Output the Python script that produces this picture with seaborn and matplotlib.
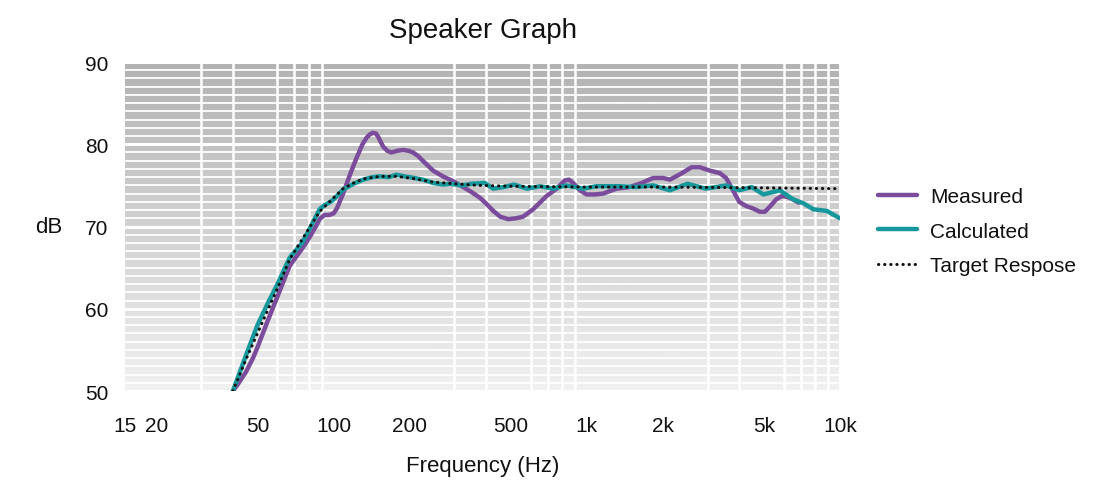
import numpy as np
import pandas as pd
import seaborn as sns
import matplotlib.pyplot as plt
from matplotlib.colors import LinearSegmentedColormap
from matplotlib.ticker import FixedLocator, NullFormatter

# measured response (purple)
measured_hz = [40, 42, 45, 48, 50, 55, 60, 67, 75, 80, 85, 88, 92, 96, 100, 103,
               109, 116, 123, 130, 135, 139, 143, 147, 150, 154, 157, 163, 169,
               178, 188, 198, 206, 215, 225, 247, 270, 297, 325, 350, 378, 400,
               427, 455, 489, 525, 560, 614, 693, 760, 818, 850, 883, 940, 997,
               1080, 1159, 1309, 1479, 1650, 1828, 2000, 2128, 2350, 2590, 2800,
               3058, 3350, 3550, 3780, 4000, 4250, 4530, 4820, 5050, 5280, 5600,
               5880, 6200, 6530, 6860]
measured_db = [50.0, 50.9, 52.3, 54.0, 55.3, 58.6, 61.5, 65.2, 67.3, 68.6, 70.0,
               70.9, 71.4, 71.4, 71.6, 72.2, 74.0, 76.3, 78.3, 80.0, 80.8, 81.2,
               81.4, 81.3, 80.9, 80.2, 79.7, 79.2, 79.0, 79.2, 79.3, 79.2, 79.0,
               78.6, 78.0, 76.8, 76.1, 75.5, 74.8, 74.2, 73.5, 72.8, 71.9, 71.2,
               70.9, 71.0, 71.2, 72.1, 73.7, 74.6, 75.6, 75.7, 75.3, 74.4, 73.9,
               73.9, 74.0, 74.6, 74.8, 75.3, 75.9, 75.9, 75.7, 76.4, 77.2, 77.2,
               76.8, 76.5, 75.9, 74.4, 73.0, 72.5, 72.2, 71.8, 71.8, 72.4, 73.3,
               73.7, 73.6, 73.3, 72.9]

# calculated response (teal)
calculated_hz = [40, 45, 50, 55, 60, 67, 75, 80, 85, 88, 92, 96, 100, 109, 120,
                 131, 142, 152, 165, 177, 190, 200, 225, 247, 270, 288, 320, 351,
                 395, 427, 470, 516, 582, 653, 737, 830, 967, 1090, 1350, 1570,
                 1828, 2128, 2500, 2950, 3550, 4000, 4480, 4980, 5790, 6530, 7200,
                 7840, 8860, 10000]
calculated_db = [50.0, 54.3, 58.0, 60.7, 63.0, 66.2, 68.0, 69.6, 71.2, 72.1, 72.6,
                 72.9, 73.3, 74.5, 75.2, 75.7, 76.0, 76.1, 76.0, 76.3, 76.1, 76.0,
                 75.7, 75.3, 75.1, 75.2, 75.0, 75.2, 75.3, 74.6, 74.8, 75.1, 74.6,
                 74.9, 74.6, 75.0, 74.6, 74.9, 74.9, 74.8, 75.0, 74.4, 75.2, 74.6,
                 75.0, 74.4, 74.8, 73.9, 74.4, 73.3, 72.8, 72.1, 71.9, 71.0]

# target response (dotted)
target_hz = [40, 45, 50, 60, 67, 80, 88, 100, 109, 120, 131, 152, 177, 210, 247,
             300, 378, 500, 1000, 2000, 5000, 10000]
target_db = [50.0, 53.8, 57.0, 62.5, 66.0, 69.8, 71.8, 73.5, 74.6, 75.3, 75.8,
             76.1, 76.1, 75.8, 75.4, 75.2, 75.0, 74.9, 74.8, 74.8, 74.7, 74.6]

tick_hz = [15, 20, 50, 100, 200, 500, 1000, 2000, 5000, 10000]
tick_labels = ["15", "20", "50", "100", "200", "500", "1k", "2k", "5k", "10k"]
grid_hz = [20, 30, 40, 50, 60, 70, 80, 90, 100, 200, 300, 400, 500, 600, 700,
           800, 900, 1000, 2000, 3000, 4000, 5000, 6000, 7000, 8000, 9000]

sns.set_style("white")
plt.rcParams["font.family"] = ["Liberation Sans", "DejaVu Sans"]
text_color = "#111111"

fig = plt.figure(figsize=(10.94, 5.02), dpi=100)
ax = fig.add_axes([0.1143, 0.219, 0.6535, 0.6555])

# gray gradient background
grad = np.linspace(0, 1, 256).reshape(-1, 1)
bg_cmap = LinearSegmentedColormap.from_list("bg", ["#b2b2b2", "#f1f1f1"])
ax.imshow(grad, extent=[15, 10000, 50, 90], aspect="auto", origin="upper",
          cmap=bg_cmap, zorder=0, interpolation="bicubic")

ax.set_xscale("log")
ax.set_xlim(15, 10000)
ax.set_ylim(50, 90)

df_m = pd.DataFrame({"Frequency": measured_hz, "dB": measured_db})
df_c = pd.DataFrame({"Frequency": calculated_hz, "dB": calculated_db})
df_t = pd.DataFrame({"Frequency": target_hz, "dB": target_db})

round_kw = dict(solid_joinstyle="round", solid_capstyle="round")
sns.lineplot(data=df_m, x="Frequency", y="dB", ax=ax, color="#7b4c9c",
             linewidth=3.2, label="Measured", zorder=3, **round_kw)
sns.lineplot(data=df_c, x="Frequency", y="dB", ax=ax, color="#17989c",
             linewidth=3.2, label="Calculated", zorder=4, **round_kw)
sns.lineplot(data=df_t, x="Frequency", y="dB", ax=ax, color="#111111",
             linewidth=2.2, linestyle=(0, (0.1, 1.9)), dash_capstyle="round",
             label="Target Respose", zorder=5)

# grid
ax.set_yticks([50, 60, 70, 80, 90])
ax.set_yticks(np.arange(50, 91, 1), minor=True)
ax.set_xticks(tick_hz)
ax.set_xticklabels(tick_labels)
ax.xaxis.set_minor_locator(FixedLocator(grid_hz))
ax.xaxis.set_minor_formatter(NullFormatter())
ax.grid(False)
ax.grid(which="major", axis="y", color="white", linewidth=2.2, zorder=1)
ax.grid(which="minor", axis="y", color="white", linewidth=1.3, zorder=1)
ax.grid(which="minor", axis="x", color="white", linewidth=1.8, zorder=1)
ax.set_axisbelow(True)
ax.tick_params(which="both", length=0, labelsize=15, colors=text_color)
ax.tick_params(axis="x", pad=18)
ax.tick_params(axis="y", pad=12)
for s in ax.spines.values():
    s.set_visible(False)

ax.set_title("Speaker Graph", fontsize=20, color=text_color, pad=18)
ax.set_xlabel("Frequency (Hz)", fontsize=16, color=text_color, labelpad=14)
ax.set_ylabel("dB", fontsize=16, color=text_color, rotation=0, labelpad=26, va="center")

ax.legend(loc="center left", bbox_to_anchor=(1.053, 0.486), frameon=False,
          fontsize=15, handlelength=1.9, handletextpad=0.6, labelspacing=0.75,
          borderpad=0, borderaxespad=0, labelcolor=text_color)

fig.savefig("out.png", dpi=100)
